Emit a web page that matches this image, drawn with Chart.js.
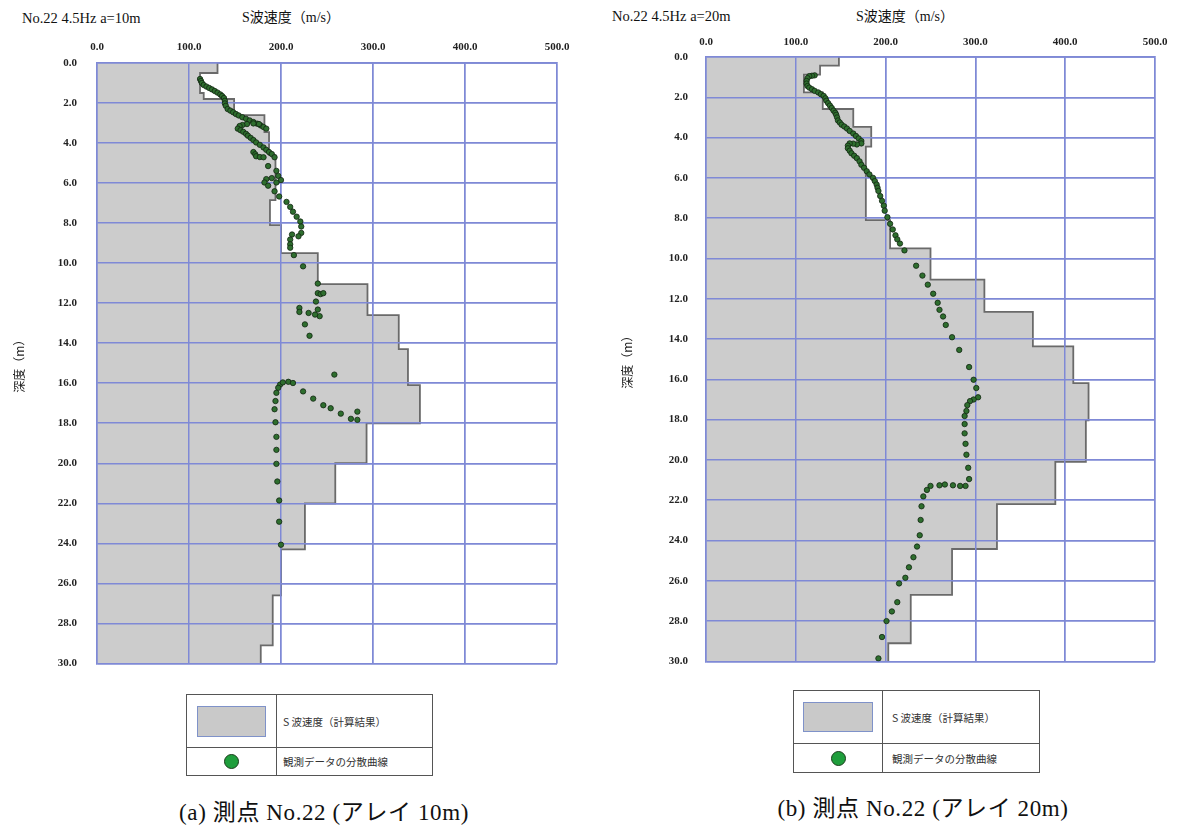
<!DOCTYPE html>
<html>
<head>
<meta charset="utf-8">
<script src="https://cdn.jsdelivr.net/npm/chart.js@4.4.1/dist/chart.umd.min.js"></script>
<style>
  body { margin: 0; background: #fff; width: 1177px; height: 836px; position: relative; overflow: hidden;
         font-family: "Liberation Serif", "Noto Sans CJK JP", serif; color: #111; }
  .abs { position: absolute; white-space: nowrap; }
  .head { font-size: 14.5px; line-height: 16px; }
  .ttl { font-size: 14px; line-height: 16px; transform: translateX(-50%); }
  .legend { position: absolute; border-collapse: collapse; font-family: "Noto Sans CJK JP", sans-serif; font-size: 10.5px; color: #333; }
  .legend td { border: 1.5px solid #555; padding: 0; }
  .swatch { background: #c9c9c9; border: 1.5px solid #7f92c9; }
  .dot { width: 13px; height: 13px; border-radius: 50%; background: #1f9e3c; border: 1px solid #1c3d1c; margin: 0 auto; }
  .cap { font-size: 23px; line-height: 26px; letter-spacing: 0.6px; transform: translateX(-50%); }
</style>
</head>
<body>
<div class="abs head" style="left:22px; top:10px;">No.22 4.5Hz a=10m</div>
<div class="abs ttl" style="left:291px; top:10px;">S波速度（m/s）</div>
<div class="abs head" style="left:612px; top:8px;">No.22 4.5Hz a=20m</div>
<div class="abs ttl" style="left:905px; top:9px;">S波速度（m/s）</div>

<div class="abs" style="left:0; top:0;"><canvas id="chartA" width="590" height="690"></canvas></div>
<div class="abs" style="left:590px; top:0;"><canvas id="chartB" width="587" height="686"></canvas></div>

<table class="legend" style="left:186px; top:694px; width:247px;">
  <tr style="height:53px;"><td style="width:89px;"><div class="swatch" style="width:67px; height:29px; margin:0 auto;"></div></td><td style="padding-left:6px;">S 波速度（計算結果）</td></tr>
  <tr style="height:28px;"><td><div class="dot"></div></td><td style="padding-left:6px;">観測データの分散曲線</td></tr>
</table>
<table class="legend" style="left:793px; top:690px; width:247px;">
  <tr style="height:53px;"><td style="width:88px;"><div class="swatch" style="width:68px; height:28px; margin:0 auto;"></div></td><td style="padding-left:9px;">S 波速度（計算結果）</td></tr>
  <tr style="height:29px;"><td><div class="dot"></div></td><td style="padding-left:9px;">観測データの分散曲線</td></tr>
</table>

<div class="abs cap" style="left:324px; top:800px;">(a) 測点 No.22 (アレイ 10m)</div>
<div class="abs cap" style="left:923px; top:796px;">(b) 測点 No.22 (アレイ 20m)</div>

<script>
// --- data -----------------------------------------------------------------
const velTicks = [0, 100, 200, 300, 400, 500];
const depthTicks = [0, 2, 4, 6, 8, 10, 12, 14, 16, 18, 20, 22, 24, 26, 28, 30];
const maxDepth = 30;

// (a) array 10m : calculated S-wave velocity layers (top depth m, Vs m/s)
const layerTopA = [0, 0.5, 1.5, 1.8, 2.6, 3.45, 4.6, 6.85, 8.1, 9.5, 11.05, 12.6, 14.3, 16.1, 18.0, 20.0, 22.0, 24.3, 26.6, 29.1];
const layerVsA  = [131, 112, 116, 149, 182, 187, 194, 188, 200, 240, 294, 328, 338, 351, 293, 259, 226, 200, 191, 178];

// (a) observed dispersion curve
const obsVelA = [112, 113, 114, 116, 119, 122, 125, 128, 131, 134, 136, 138, 139, 139, 140, 142, 145, 148, 151, 154,
  158, 162, 166, 170, 174, 178, 181, 184, 176, 170, 163, 158, 155, 153, 156, 159, 162, 164, 167, 170,
  173, 177, 181, 184, 187, 190, 193, 170, 172, 173, 177, 181, 186, 195, 197, 200, 195, 190, 184, 182,
  186, 193, 198, 206, 210, 213, 217, 221, 222, 222, 219, 212, 210, 210, 210, 214, 224, 240, 240, 243,
  246, 238, 220, 220, 230, 240, 242, 237, 226, 231, 258, 199, 202, 208, 213, 197, 195, 194, 193, 194,
  195, 195, 195, 196, 198, 198, 200, 224, 235, 246, 254, 265, 276, 283, 283];
const obsDepthA = [0.80, 0.90, 1.00, 1.10, 1.18, 1.25, 1.32, 1.40, 1.48, 1.57, 1.65, 1.75, 1.89, 2.02, 2.14, 2.30, 2.38, 2.46, 2.55, 2.62,
  2.71, 2.79, 2.87, 2.95, 3.03, 3.12, 3.20, 3.28, 3.05, 3.02, 3.05, 3.10, 3.15, 3.28, 3.36, 3.44, 3.54, 3.63, 3.74, 3.85,
  3.97, 4.09, 4.22, 4.34, 4.45, 4.55, 4.71, 4.45, 4.56, 4.66, 4.70, 4.71, 5.15, 5.39, 5.64, 5.85, 5.97, 5.75, 5.80, 5.97,
  6.13, 6.41, 6.67, 6.94, 7.19, 7.43, 7.68, 7.92, 8.17, 8.49, 8.66, 8.57, 8.82, 9.06, 9.23, 9.60, 10.16, 11.02, 11.50, 11.55,
  11.50, 11.92, 12.24, 12.44, 12.49, 12.32, 12.65, 12.57, 13.06, 13.63, 15.57, 16.07, 15.96, 15.93, 15.99, 16.23, 16.48, 16.89, 17.30, 17.95,
  18.68, 19.33, 20.03, 20.91, 21.86, 22.92, 24.07, 16.41, 16.77, 17.10, 17.25, 17.52, 17.78, 17.42, 17.83];

// (b) array 20m : calculated S-wave velocity layers
const layerTopB = [0, 0.43, 0.87, 1.76, 2.58, 3.47, 4.45, 8.1, 9.5, 11.05, 12.65, 14.36, 16.19, 18.03, 20.1, 22.19, 24.42, 26.7, 29.1];
const layerVsB  = [148, 127, 109, 130, 164, 184, 178, 205, 250, 310, 364, 409, 426, 423, 389, 324, 274, 228, 203];

// (b) observed dispersion curve
const obsVelB = [121, 118, 115, 113, 112, 112, 113, 115, 118, 121, 125, 128, 131, 133, 134, 136, 138, 140, 142, 144,
  145, 146, 147, 149, 151, 154, 157, 160, 164, 167, 170, 173, 173, 168, 164, 160, 158, 158, 160, 162,
  165, 168, 171, 173, 176, 179, 182, 186, 188, 190, 191, 192, 194, 196, 198, 199, 202, 205, 208, 211,
  213, 216, 221, 234, 241, 247, 253, 258, 260, 264, 267, 274, 282, 293, 298, 301, 303, 298, 294, 291,
  290, 288, 288, 288, 289, 290, 292, 293, 289, 283, 275, 266, 260, 250, 246, 242, 240, 239, 238, 235,
  231, 226, 222, 215, 213, 207, 201, 196, 192];
const obsDepthB = [0.91, 0.93, 0.95, 1.05, 1.19, 1.32, 1.44, 1.52, 1.60, 1.68, 1.76, 1.85, 1.93, 2.05, 2.17, 2.29, 2.41, 2.53, 2.66, 2.77,
  2.87, 3.00, 3.15, 3.25, 3.36, 3.45, 3.55, 3.67, 3.80, 3.92, 4.04, 4.17, 4.29, 4.34, 4.30, 4.29, 4.40, 4.53, 4.65, 4.78,
  4.90, 5.02, 5.18, 5.35, 5.50, 5.67, 5.83, 6.00, 6.16, 6.33, 6.49, 6.65, 6.90, 7.14, 7.38, 7.63, 7.95, 8.28, 8.56, 8.85,
  9.05, 9.26, 9.60, 10.36, 10.85, 11.30, 11.75, 12.20, 12.55, 12.88, 13.30, 13.91, 14.54, 15.39, 16.02, 16.43, 16.89, 17.00, 17.08, 17.28,
  17.57, 17.82, 18.22, 18.68, 19.20, 19.74, 20.39, 20.95, 21.29, 21.29, 21.26, 21.22, 21.26, 21.29, 21.49, 21.81, 22.30, 22.98, 23.74, 24.30,
  24.83, 25.33, 25.85, 26.13, 27.06, 27.52, 28.00, 28.79, 29.85];

// --- helpers --------------------------------------------------------------
const gridColor = '#7f89d6';
const tickFont = { family: 'Liberation Serif', size: 11, weight: 'bold' };

// Turn layer tables into a stepped profile (velocity on x, depth on y)
function stepPoints(tops, vs) {
  const pts = [];
  vs.forEach((v, i) => {
    const bottom = i + 1 < tops.length ? tops[i + 1] : maxDepth;
    pts.push({ x: v, y: tops[i] });
    pts.push({ x: v, y: bottom });
  });
  return pts;
}

function obsPoints(vel, depth) {
  return vel.map((v, i) => ({ x: v, y: depth[i] }));
}

// Re-draw the scales' grid right after the grey profile, so the blue grid
// shows through the fill but the observed dots stay on top.
const gridOverFill = {
  id: 'gridOverFill',
  afterDatasetDraw(chart, args) {
    if (args.index !== 1) return;
    chart.scales.x.drawGrid(chart.chartArea);
    chart.scales.y.drawGrid(chart.chartArea);
    chart.scales.x.drawBorder();
    chart.scales.y.drawBorder();
  }
};

function makeChart(id, opts) {
  const ctx = document.getElementById(id).getContext('2d');
  return new Chart(ctx, {
    type: 'line',
    data: {
      datasets: [
        {
          label: '観測データの分散曲線',
          data: opts.obs,
          showLine: false,
          pointRadius: 2.7,
          pointBackgroundColor: '#2e6e2e',
          pointBorderColor: '#112611',
          pointBorderWidth: 0.8,
          order: 1
        },
        {
          label: 'S波速度（計算結果）',
          data: opts.steps,
          borderColor: '#6a6a6a',
          borderWidth: 1.8,
          backgroundColor: '#cccccc',
          fill: 'origin',
          pointRadius: 0,
          tension: 0,
          order: 2
        }
      ]
    },
    options: {
      indexAxis: 'y',
      responsive: false,
      animation: false,
      layout: { padding: { right: opts.padRight, bottom: opts.padBottom } },
      plugins: { legend: { display: false }, tooltip: { enabled: false } },
      scales: {
        x: {
          type: 'linear',
          position: 'top',
          min: velTicks[0],
          max: velTicks[velTicks.length - 1],
          afterBuildTicks: s => { s.ticks = velTicks.map(v => ({ value: v })); },
          ticks: { callback: v => v.toFixed(1), padding: opts.xTickPad, font: tickFont, color: '#222', maxRotation: 0 },
          grid: { color: gridColor, lineWidth: 1.5, drawTicks: false },
          border: { color: gridColor, width: 1.5 },
          afterFit: s => { s.height = opts.top; }
        },
        y: {
          type: 'linear',
          reverse: true,
          min: 0,
          max: maxDepth,
          afterBuildTicks: s => { s.ticks = depthTicks.map(v => ({ value: v })); },
          ticks: { callback: v => v.toFixed(1), padding: opts.yTickPad, font: tickFont, color: '#222' },
          grid: { color: gridColor, lineWidth: 1.5, drawTicks: false },
          border: { color: gridColor, width: 1.5 },
          title: {
            display: true,
            text: '深度（m）',
            font: { family: 'Noto Sans CJK JP', size: 12 },
            color: '#222',
            padding: { top: opts.yTitlePad, bottom: 0 }
          },
          afterFit: s => { s.width = opts.left; }
        }
      }
    },
    plugins: [gridOverFill]
  });
}

// --- charts ---------------------------------------------------------------
makeChart('chartA', {
  steps: stepPoints(layerTopA, layerVsA),
  obs: obsPoints(obsVelA, obsDepthA),
  left: 97, top: 63, padRight: 33, padBottom: 14,
  xTickPad: 9, yTickPad: 20, yTitlePad: 12
});

makeChart('chartB', {
  steps: stepPoints(layerTopB, layerVsB),
  obs: obsPoints(obsVelB, obsDepthB),
  left: 116, top: 57, padRight: 22, padBottom: 14,
  xTickPad: 8, yTickPad: 18, yTitlePad: 30
});
</script>
</body>
</html>
